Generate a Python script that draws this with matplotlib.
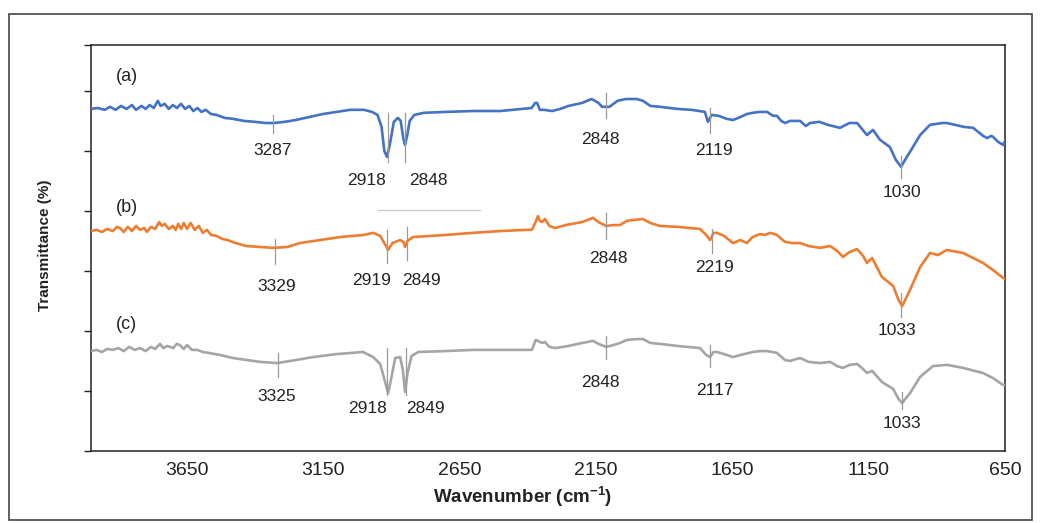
import matplotlib
matplotlib.use("Agg")
import matplotlib.pyplot as plt
import matplotlib.patches as patches

plt.rcParams['font.family'] = ['Liberation Sans', 'DejaVu Sans']
plt.rcParams['mathtext.fontset'] = 'custom'
plt.rcParams['mathtext.rm'] = 'Liberation Sans'
plt.rcParams['mathtext.bf'] = 'Liberation Sans:bold'

# (a) spectrum: wavenumber (cm-1), transmittance (offset, a.u.)
wn_a = [4000, 3975, 3950, 3930, 3910, 3890, 3870, 3850, 3835, 3815, 3800, 3785, 3770, 3755,
        3745, 3730, 3715, 3700, 3685, 3670, 3655, 3640, 3625, 3610, 3595, 3580, 3560, 3540,
        3510, 3480, 3440, 3400, 3360, 3330, 3290, 3250, 3200, 3150, 3100, 3050, 3000, 2970,
        2950, 2935, 2925, 2915, 2905, 2890, 2875, 2865, 2855, 2849, 2842, 2832, 2815, 2780,
        2700, 2600, 2500, 2420, 2385, 2372, 2365, 2355, 2340, 2310, 2280, 2250, 2200, 2165,
        2140, 2127, 2100, 2070, 2040, 2000, 1977, 1950, 1915, 1850, 1800, 1770, 1750, 1739,
        1725, 1700, 1670, 1647, 1620, 1596, 1575, 1550, 1522, 1500, 1486, 1470, 1456, 1438,
        1401, 1380, 1365, 1330, 1300, 1255, 1220, 1192, 1156, 1134, 1108, 1072, 1050, 1031,
        1010, 998, 961, 925, 880, 863, 800, 767, 730, 716, 700, 694, 675, 657, 650]
t_a = [114.0, 114.3, 113.7, 114.7, 113.7, 115.0, 114.0, 115.3, 113.7, 115.0, 114.0, 115.3, 114.3, 116.7,
       115.0, 115.7, 114.0, 115.3, 114.3, 115.7, 114.0, 115.0, 113.3, 114.3, 113.0, 113.7, 112.3, 112.0,
       111.0, 110.7, 110.0, 109.7, 109.3, 109.3, 109.7, 110.3, 111.3, 112.3, 113.0, 113.7, 113.7, 113.0,
       112.0, 108.0, 100.0, 98.0, 102.0, 109.7, 111.0, 110.0, 104.0, 102.0, 104.7, 110.0, 112.0, 112.7,
       113.0, 113.3, 113.3, 114.0, 114.3, 116.0, 116.0, 113.7, 113.7, 113.3, 114.0, 115.0, 116.0, 117.3,
       116.0, 114.7, 114.7, 116.7, 117.3, 117.3, 116.7, 115.0, 114.7, 114.0, 113.7, 113.3, 113.0, 109.7,
       112.0, 111.7, 110.7, 110.3, 111.3, 112.3, 112.7, 113.0, 113.0, 111.7, 111.7, 110.0, 109.3, 110.0,
       110.0, 108.3, 109.3, 109.7, 108.7, 107.7, 109.3, 109.3, 105.3, 107.0, 103.7, 101.3, 97.0, 94.7,
       98.0, 99.7, 105.3, 108.7, 109.3, 109.3, 108.0, 107.7, 105.0, 104.3, 105.0, 104.7, 103.0, 102.0, 103.3]

# (b) spectrum
wn_b = [4000, 3980, 3960, 3940, 3920, 3905, 3894, 3880, 3865, 3850, 3835, 3820, 3805, 3795,
        3780, 3765, 3750, 3740, 3730, 3715, 3700, 3690, 3680, 3670, 3660, 3648, 3635, 3620,
        3605, 3590, 3575, 3560, 3540, 3520, 3500, 3470, 3430, 3380, 3330, 3280, 3234, 3161,
        3087, 3000, 2966, 2940, 2925, 2911, 2895, 2867, 2855, 2849, 2840, 2820, 2700, 2600,
        2500, 2400, 2384, 2372, 2362, 2355, 2347, 2336, 2320, 2299, 2260, 2200, 2160, 2140,
        2112, 2085, 2061, 2036, 2010, 1977, 1950, 1915, 1850, 1768, 1745, 1731, 1718, 1706,
        1680, 1647, 1620, 1596, 1575, 1548, 1530, 1510, 1486, 1465, 1456, 1430, 1401, 1370,
        1328, 1291, 1265, 1244, 1220, 1192, 1170, 1156, 1137, 1101, 1060, 1040, 1027, 998,
        961, 925, 896, 863, 804, 731, 694, 657, 650]
t_b = [73.3, 73.7, 73.0, 74.0, 73.3, 74.7, 74.3, 73.0, 74.7, 73.3, 75.0, 73.7, 74.3, 73.0,
       74.7, 74.0, 76.3, 75.0, 75.7, 74.0, 75.0, 73.7, 75.7, 74.0, 76.0, 74.0, 76.0, 73.7,
       75.0, 72.7, 73.7, 72.0, 71.7, 70.7, 70.3, 69.3, 68.3, 68.0, 67.7, 68.0, 69.3, 70.3,
       71.3, 72.0, 72.7, 71.7, 69.3, 67.0, 69.3, 70.3, 69.7, 68.0, 70.0, 71.3, 72.0, 72.7,
       73.3, 73.7, 73.7, 76.0, 78.3, 76.7, 76.3, 77.3, 75.0, 74.3, 75.3, 76.3, 77.7, 76.3,
       75.0, 75.3, 75.3, 76.7, 77.0, 77.3, 76.0, 75.0, 74.7, 74.0, 72.0, 70.3, 72.7, 72.7,
       71.7, 69.3, 70.3, 69.3, 71.3, 72.3, 72.0, 72.7, 72.0, 70.3, 69.7, 69.3, 69.3, 68.3,
       67.7, 68.3, 66.7, 64.7, 66.3, 67.3, 65.0, 62.7, 64.3, 58.0, 55.0, 50.3, 48.3, 53.7,
       61.3, 66.0, 65.3, 67.0, 66.0, 62.7, 60.3, 57.7, 57.3]

# (c) spectrum
wn_c = [4000, 3980, 3960, 3940, 3919, 3900, 3880, 3860, 3840, 3820, 3800, 3780, 3765, 3747,
        3735, 3720, 3699, 3685, 3674, 3660, 3648, 3630, 3611, 3590, 3570, 3527, 3480, 3428,
        3380, 3318, 3250, 3186, 3100, 3003, 2966, 2940, 2925, 2911, 2900, 2885, 2867, 2857,
        2849, 2840, 2825, 2800, 2700, 2600, 2500, 2384, 2370, 2362, 2347, 2336, 2320, 2299,
        2250, 2200, 2160, 2140, 2112, 2085, 2061, 2036, 2000, 1977, 1950, 1915, 1850, 1768,
        1745, 1731, 1718, 1706, 1680, 1647, 1620, 1574, 1548, 1522, 1486, 1465, 1456, 1438,
        1401, 1370, 1328, 1291, 1265, 1244, 1220, 1192, 1170, 1156, 1137, 1101, 1060, 1040,
        1027, 998, 961, 914, 863, 804, 731, 694, 657, 650]
t_c = [33.3, 33.7, 33.0, 34.0, 33.7, 34.3, 33.3, 34.7, 33.7, 34.3, 33.3, 34.7, 34.0, 35.7,
       34.3, 35.0, 34.3, 35.7, 35.3, 34.0, 35.3, 33.7, 33.7, 33.0, 32.7, 32.0, 31.0, 30.3,
       29.7, 29.3, 30.3, 31.3, 32.3, 33.0, 31.3, 29.0, 24.0, 19.3, 24.0, 31.0, 31.3, 27.0,
       19.7, 26.0, 31.7, 33.0, 33.3, 33.7, 33.7, 33.7, 37.0, 36.7, 36.0, 36.3, 34.7, 34.3,
       35.0, 36.0, 36.7, 35.7, 34.7, 35.3, 36.0, 37.0, 37.3, 37.3, 36.0, 35.7, 35.0, 34.3,
       32.0, 31.3, 33.0, 33.0, 32.3, 31.3, 32.0, 33.0, 33.3, 33.3, 32.7, 31.0, 30.3, 30.0,
       31.0, 29.7, 29.3, 29.7, 28.3, 27.7, 28.7, 29.0, 27.3, 26.0, 26.7, 23.0, 20.7, 17.3,
       16.0, 19.3, 24.7, 28.3, 28.7, 27.7, 26.0, 24.3, 22.0, 22.0]

# peak labels: text, marker wn, marker bottom, marker top, text wn, text y
peaks_a = [("3287", 3333, 106.0, 112.0, 3333, 100.3),
           ("2918", 2911, 96.3, 112.7, 2992, 90.0),
           ("2848", 2849, 96.3, 112.7, 2765, 90.0),
           ("2848", 2112, 111.0, 119.3, 2134, 103.7),
           ("2119", 1731, 106.0, 114.3, 1716, 100.0),
           ("1030", 1031, 91.0, 98.3, 1027, 86.0)]
peaks_b = [("3329", 3326, 62.3, 70.7, 3318, 54.7),
           ("2919", 2915, 62.7, 73.7, 2970, 56.7),
           ("2849", 2842, 63.7, 74.7, 2790, 56.7),
           ("2848", 2112, 70.7, 79.3, 2105, 64.0),
           ("2219", 1724, 66.0, 74.0, 1713, 61.0),
           ("1033", 1031, 44.7, 52.7, 1046, 40.0)]
peaks_c = [("3325", 3315, 24.7, 32.7, 3318, 18.0),
           ("2918", 2915, 18.7, 34.3, 2988, 14.3),
           ("2849", 2845, 18.7, 34.3, 2776, 14.3),
           ("2848", 2112, 30.7, 38.3, 2134, 22.7),
           ("2117", 1731, 28.0, 35.3, 1713, 20.3),
           ("1033", 1027, 14.0, 19.7, 1027, 9.3)]

panel_labels = ["(a)", "(b)", "(c)"]
panel_y = [124.7, 81.3, 42.3]
xtick_vals = [3650, 3150, 2650, 2150, 1650, 1150, 650]

fig = plt.figure(figsize=(10.4, 5.23), dpi=100)
ax = fig.add_axes([91 / 1040, 1 - 451 / 523, 914 / 1040, 406 / 523])

colors = ['#4472C4', '#ED7D31', '#A5A5A5']
for wn, t, c in zip([wn_a, wn_b, wn_c], [t_a, t_b, t_c], colors):
    ax.plot(wn, t, color=c, lw=1.9, solid_joinstyle='round', zorder=3)

for peaks in [peaks_a, peaks_b, peaks_c]:
    for label, xm, y0, y1, xt, yt in peaks:
        ax.plot([xm, xm], [y0, y1], color='#9a9a9a', lw=0.9, zorder=4)
        ax.text(xt, yt, label, ha='center', va='center', fontsize=12.5, color='#222222')

for lab, yy in zip(panel_labels, panel_y):
    ax.text(3870, yy, lab, ha='center', va='center', fontsize=13, color='#222222')

# faint stray line visible in the source
ax.plot([2948, 2574], [80.3, 80.3], color='#c9c9c9', lw=0.9, zorder=2)

ax.set_xlim(4000, 650)
ax.set_ylim(0, 135.3)
ax.set_xticks(xtick_vals)
ax.set_xticklabels([str(v) for v in xtick_vals], fontsize=14, color='#222222')
ax.set_yticks([0, 20, 40, 60, 80, 100, 120, 135.3])
ax.set_yticklabels([])
ax.tick_params(axis='x', length=0, pad=8)
ax.tick_params(axis='y', length=5, width=1, direction='out', color='#222222')
for s in ax.spines.values():
    s.set_linewidth(1.1)
    s.set_color('#222222')

fig.text(523 / 1040, 1 - 497 / 523, r'Wavenumber (cm$^{\mathbf{-1}}$)', ha='center', va='center',
         fontsize=13.5, fontweight='bold', color='#222222')
fig.text(45 / 1040, 1 - 245 / 523, 'Transmittance (%)', ha='center', va='center', rotation=90,
         fontsize=11, fontweight='bold', color='#222222')

fig.add_artist(patches.Rectangle((9 / 1040, 3 / 523), 1023 / 1040, 506 / 523, transform=fig.transFigure,
                                 fill=False, edgecolor='#444444', lw=1.2))

fig.savefig('out.png', dpi=100)
